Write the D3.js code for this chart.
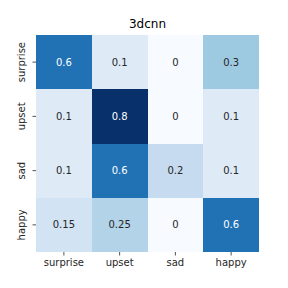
<!DOCTYPE html>
<meta charset="utf-8">
<style>
body { margin: 0; background: #fff; }
svg text { font-family: "DejaVu Sans", sans-serif; }
</style>
<body>
<svg width="288" height="288"></svg>
<script src="https://d3js.org/d3.v7.min.js"></script>
<script>

var title = "3dcnn";
var labels = ["surprise", "upset", "sad", "happy"];
var matrix = [
  [0.6, 0.1, 0, 0.3],
  [0.1, 0.8, 0, 0.1],
  [0.1, 0.6, 0.2, 0.1],
  [0.15, 0.25, 0, 0.6]
];

var svg = d3.select("svg"),
    margin = {top: 35, right: 29, bottom: 36, left: 36},
    width = 288 - margin.left - margin.right,
    height = 288 - margin.top - margin.bottom;

var x = d3.scaleBand().domain(labels).range([0, width]),
    y = d3.scaleBand().domain(labels).range([0, height]);

var vmax = d3.max(matrix, function(r) { return d3.max(r); });
var blues = d3.schemeBlues[9];
// matplotlib-style linear segmented Blues
var color = d3.scaleLinear()
    .domain(d3.range(9).map(function(i) { return i / 8 * vmax; }))
    .range(["#f7fbff", "#deebf7", "#c6dbef", "#9ecae1", "#6baed6", "#4292c6", "#2171b5", "#08519c", "#08306b"]);

var cells = [];
matrix.forEach(function(row, i) {
  row.forEach(function(v, j) {
    cells.push({r: labels[i], c: labels[j], v: v});
  });
});

var g = svg.append("g")
    .attr("transform", "translate(" + margin.left + "," + margin.top + ")");

g.selectAll("rect")
  .data(cells)
  .enter().append("rect")
    .attr("x", function(d) { return x(d.c); })
    .attr("y", function(d) { return y(d.r); })
    .attr("width", x.bandwidth())
    .attr("height", y.bandwidth())
    .attr("fill", function(d) { return color(d.v); })
    .attr("shape-rendering", "crispEdges");

g.selectAll(".val")
  .data(cells)
  .enter().append("text")
    .attr("class", "val")
    .attr("x", function(d) { return x(d.c) + x.bandwidth() / 2; })
    .attr("y", function(d) { return y(d.r) + y.bandwidth() / 2; })
    .attr("dy", "0.35em")
    .attr("text-anchor", "middle")
    .attr("font-size", "10px")
    .attr("fill", function(d) { return d.v / vmax > 0.5 ? "#ffffff" : "#262626"; })
    .text(function(d) { return d.v; });

var xAxis = g.append("g")
    .attr("transform", "translate(0," + height + ")")
    .call(d3.axisBottom(x).tickSize(3.5).tickPadding(3.5));
var yAxis = g.append("g")
    .call(d3.axisLeft(y).tickSize(3.5).tickPadding(3.5));

[xAxis, yAxis].forEach(function(a) {
  a.select(".domain").remove();
  a.selectAll("line").attr("stroke", "#262626").attr("stroke-width", 0.8);
  a.selectAll("text").attr("fill", "#262626").attr("font-size", "10px")
    .attr("font-family", "DejaVu Sans, sans-serif");
});

yAxis.selectAll("text")
    .attr("text-anchor", "middle")
    .attr("transform", "rotate(-90)")
    .attr("x", 0)
    .attr("y", -11)
    .attr("dy", "0");

svg.append("text")
    .attr("x", margin.left + width / 2)
    .attr("y", margin.top - 7)
    .attr("text-anchor", "middle")
    .attr("font-size", "12px")
    .attr("fill", "#000")
    .text(title);

</script>
</body>
